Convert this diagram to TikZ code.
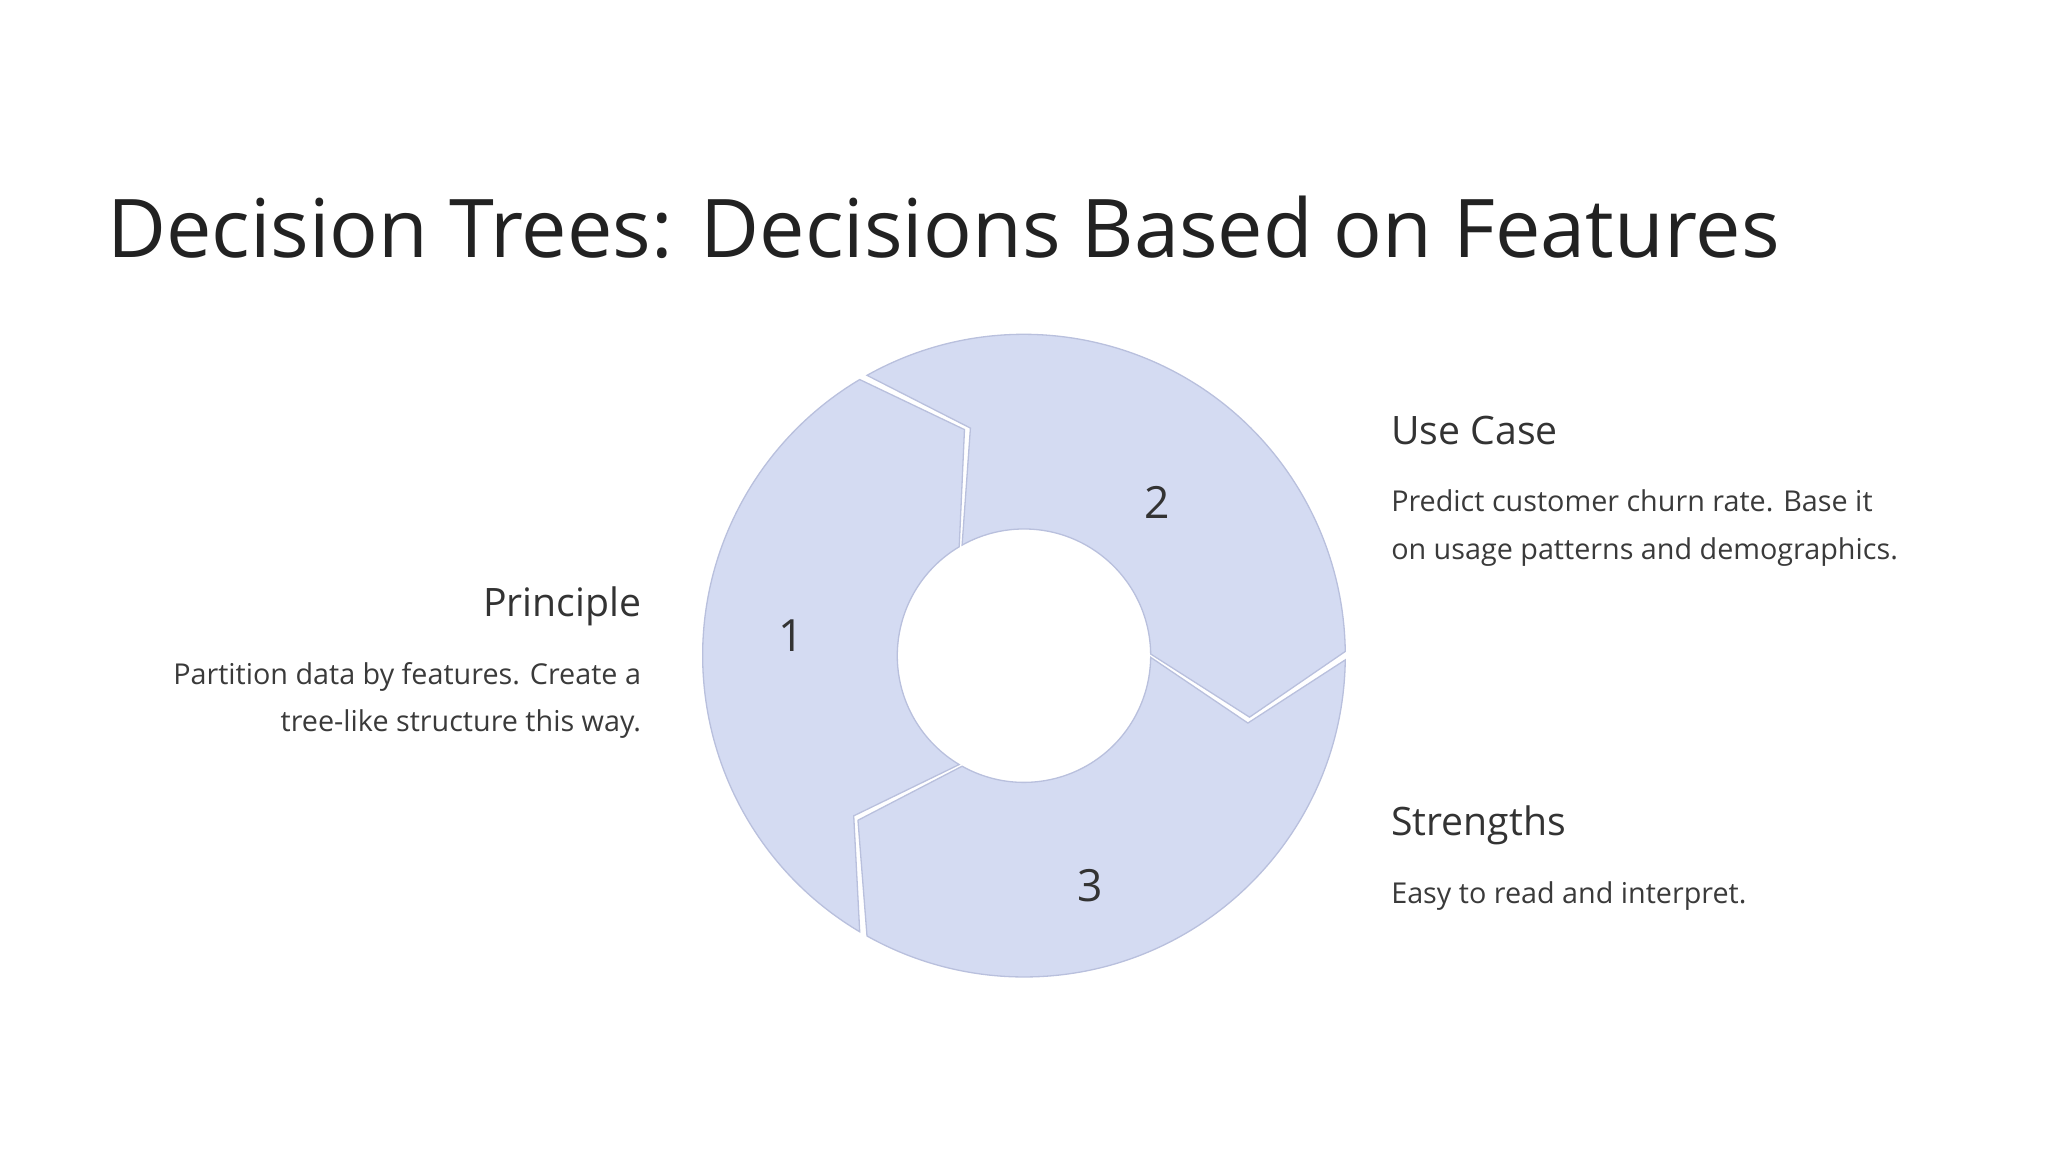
\documentclass[tikz,border=0pt]{standalone}
\usepackage{fontspec}
\setmainfont{Open Sans}
\definecolor{segfill}{HTML}{D4DBF2}
\definecolor{segline}{HTML}{B9C0DD}
\definecolor{titlec}{HTML}{222222}
\definecolor{headc}{HTML}{333333}
\definecolor{bodyc}{HTML}{3A3A3A}
\begin{document}
\begin{tikzpicture}[x=1pt,y=1pt,
  seg/.style={fill=segfill,draw=segline,line width=1pt,line join=miter},
  title/.style={font=\fontsize{62}{70}\selectfont,text=titlec,inner sep=0},
  head/.style={font=\fontsize{30}{36}\selectfont,text=headc,inner sep=0},
  body/.style={font=\fontsize{22}{36}\selectfont,text=bodyc,inner sep=0},
  num/.style={font=\fontsize{34}{40}\selectfont,text=headc,inner sep=0}]
\useasboundingbox (-784,-380) rectangle (784,502);
\def\Ro{246}\def\Ri{97}\def\Rm{179}\def\tp{16}\def\g{0.75}
% segments: start angle a (notch), end angle b (tip), clockwise
\foreach \a/\b [evaluate=\a as \as using \a-\g, evaluate=\b as \bs using \b+\g] in {240/120,120/0,360/240}{
  \path[seg] (\as:\Ro) arc[start angle=\as,end angle=\bs,radius=\Ro]
    -- (\bs-\tp:\Rm) -- (\bs:\Ri)
    arc[start angle=\bs,end angle=\as,radius=\Ri]
    -- (\as-\tp:\Rm) -- cycle;
}
\node[num] (n1) at (-178,15) {1};
\node[num] (n2) at (102,117) {2};
\node[num] (n3) at (51,-176) {3};
\node[title,anchor=base west] (t) at (-702,305) {Decision Trees: Decisions Based on Features};
\node[head,anchor=base east] (h1) at (-293,30) {Principle};
\node[body,anchor=base east] (b1a) at (-293,-22) {Partition data by features. Create a};
\node[body,anchor=base east] (b1b) at (-293,-58) {tree-like structure this way.};
\node[head,anchor=base west] (h2) at (281,162) {Use Case};
\node[body,anchor=base west] (b2a) at (281,110) {Predict customer churn rate. Base it};
\node[body,anchor=base west] (b2b) at (281,74) {on usage patterns and demographics.};
\node[head,anchor=base west] (h3) at (281,-138) {Strengths};
\node[body,anchor=base west] (b3a) at (281,-190) {Easy to read and interpret.};
\end{tikzpicture}
\end{document}
